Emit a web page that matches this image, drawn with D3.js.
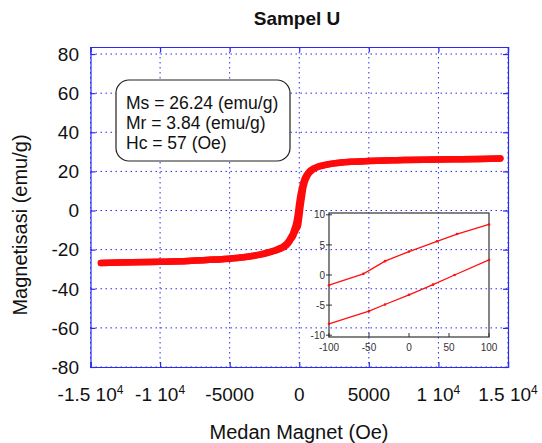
<!DOCTYPE html>
<html>
<head>
<meta charset="utf-8">
<script src="https://cdn.jsdelivr.net/npm/d3@7"></script>
<style>
  html, body { margin: 0; padding: 0; background: #fff; }
  svg { display: block; font-family: "Liberation Sans", Arial, Helvetica, sans-serif; }
</style>
</head>
<body>
<svg id="chart" width="542" height="443"></svg>
<script>
// ---------------- DATA ----------------
const titleText = "Sampel U";
const xLabelText = "Medan Magnet (Oe)";
const yLabelText = "Magnetisasi (emu/g)";
const infoLines = ["Ms = 26.24 (emu/g)", "Mr = 3.84 (emu/g)", "Hc = 57 (Oe)"];

// main loop: field (Oe) and magnetisation (emu/g) on both branches
const fieldH = [-14250, -12000, -10000, -8000, -6000, -4500, -3500, -2500, -1800, -1300, -1000, -800, -600, -450, -330, -200, -100, 0, 100, 200, 300, 400, 550, 750, 1000, 1350, 1800, 2500, 3700, 5000, 7000, 9000, 11000, 13000, 14450];
const upperM = [-26.8, -26.5, -26.2, -25.8, -25.1, -24.3, -23.4, -21.9, -20.5, -19.0, -17.6, -16.0, -13.7, -11.7, -9.2, -5.9, -1.7, 3.9, 8.4, 11.6, 14.5, 16.5, 18.4, 20.2, 21.4, 22.5, 23.3, 24.1, 24.9, 25.3, 25.7, 26.0, 26.2, 26.4, 26.6];
const lowerM = [-26.8, -26.5, -26.2, -25.8, -25.1, -24.3, -23.4, -22.1, -20.7, -19.4, -18.2, -16.8, -14.7, -13.1, -11.2, -9.3, -8.1, -3.3, 2.5, 7.4, 11.9, 14.7, 17.2, 19.4, 21.0, 22.3, 23.1, 24.1, 24.9, 25.3, 25.7, 26.0, 26.2, 26.4, 26.6];

// inset (zoom near origin)
const insetUpperH = [-100, -57, -30, 0, 35, 60, 100];
const insetUpperM = [-1.7, 0.2, 2.3, 3.9, 5.6, 6.8, 8.4];
const insetLowerH = [-100, -50, -30, 0, 30, 57, 100];
const insetLowerM = [-8.1, -6.0, -4.9, -3.3, -1.6, 0.0, 2.5];

// ticks
const xTicks = [-15000, -10000, -5000, 0, 5000, 10000, 15000];
const xTickBase = ["-1.5 10", "-1 10", "-5000", "0", "5000", "1 10", "1.5 10"];
const xTickExp = ["4", "4", "", "", "", "4", "4"];
const yTicks = [-80, -60, -40, -20, 0, 20, 40, 60, 80];
const insetXTicks = [-100, -50, 0, 50, 100];
const insetYTicks = [-10, -5, 0, 5, 10];

// ---------------- DRAW ----------------
const svg = d3.select("#chart");
const blue = "#2b2bf0";

const x = d3.scaleLinear().domain([-15000, 15000]).range([90.5, 508]);
const y = d3.scaleLinear().domain([-80, 83.6]).range([367, 47]);

// grid
const grid = svg.append("g");
grid.selectAll("line.gx").data(xTicks).join("line")
  .attr("x1", d => x(d)).attr("x2", d => x(d))
  .attr("y1", y.range()[1]).attr("y2", y.range()[0])
  .attr("stroke", blue).attr("stroke-width", 1).attr("stroke-dasharray", "1.5,3.5");
grid.selectAll("line.gy").data(yTicks).join("line")
  .attr("y1", d => y(d)).attr("y2", d => y(d))
  .attr("x1", x.range()[0]).attr("x2", x.range()[1])
  .attr("stroke", blue).attr("stroke-width", 1).attr("stroke-dasharray", "1.5,3.5");

// axes (inward ticks)
const xAxisG = svg.append("g").attr("transform", `translate(0,${y.range()[0]})`)
  .call(d3.axisBottom(x).tickValues(xTicks).tickSize(-5).tickFormat(""));
const xAxisTopG = svg.append("g").attr("transform", `translate(0,${y.range()[1]})`)
  .call(d3.axisTop(x).tickValues(xTicks).tickSize(-5).tickFormat(""));
const yAxisG = svg.append("g").attr("transform", `translate(${x.range()[0]},0)`)
  .call(d3.axisLeft(y).tickValues(yTicks).tickSize(-5).tickFormat(""));
const yAxisRG = svg.append("g").attr("transform", `translate(${x.range()[1]},0)`)
  .call(d3.axisRight(y).tickValues(yTicks).tickSize(-5).tickFormat(""));
[xAxisG, xAxisTopG, yAxisG, yAxisRG].forEach(g => {
  g.selectAll("path.domain").attr("stroke", blue).attr("stroke-width", 1.2);
  g.selectAll(".tick line").attr("stroke", blue).attr("stroke-width", 1.2);
});

// y tick labels
svg.append("g").selectAll("text").data(yTicks).join("text")
  .attr("x", 79).attr("y", d => y(d)).attr("dy", "0.36em")
  .attr("text-anchor", "end").attr("font-size", 19).attr("fill", "#111")
  .text(d => d);

// x tick labels with superscripts
const xl = svg.append("g").selectAll("text").data(xTicks).join("text")
  .attr("x", d => x(d)).attr("y", 401)
  .attr("text-anchor", "middle").attr("font-size", 19).attr("fill", "#111");
xl.append("tspan").text((d, i) => xTickBase[i]);
xl.append("tspan").attr("dy", "-0.55em").attr("font-size", 12)
  .text((d, i) => xTickExp[i]);

// axis labels and title
svg.append("text").attr("x", 299).attr("y", 439).attr("text-anchor", "middle")
  .attr("font-size", 20).attr("fill", "#111").text(xLabelText);
svg.append("text").attr("transform", "translate(27,225) rotate(-90)")
  .attr("text-anchor", "middle").attr("font-size", 20).attr("fill", "#111").text(yLabelText);
svg.append("text").attr("x", 297).attr("y", 25).attr("text-anchor", "middle")
  .attr("font-size", 19).attr("font-weight", "bold").attr("fill", "#111").text(titleText);

// info box
svg.append("rect").attr("x", 116).attr("y", 80).attr("width", 174).attr("height", 81)
  .attr("rx", 13).attr("ry", 13).attr("fill", "#fff").attr("stroke", "#222").attr("stroke-width", 1.2);
svg.append("g").selectAll("text").data(infoLines).join("text")
  .attr("x", 126).attr("y", (d, i) => 109 + i * 20)
  .attr("font-size", 17.5).attr("fill", "#111").text(d => d);

// main loop
const line = d3.line().x(d => x(d[0])).y(d => y(d[1])).curve(d3.curveMonotoneX);
const upperPts = fieldH.map((h, i) => [h, upperM[i]]);
const lowerPts = fieldH.map((h, i) => [h, lowerM[i]]);
[upperPts, lowerPts].forEach(pts => {
  svg.append("path").datum(pts).attr("d", line)
    .attr("fill", "none").attr("stroke", "#ff0a0a").attr("stroke-width", 6.5)
    .attr("stroke-linecap", "round").attr("stroke-linejoin", "round");
});

// inset
const xi = d3.scaleLinear().domain([-100, 100]).range([329, 489]);
const yi = d3.scaleLinear().domain([-10.3, 10.3]).range([337, 213]);
const inset = svg.append("g");
inset.append("rect").attr("x", 329).attr("y", 213).attr("width", 160).attr("height", 124)
  .attr("fill", "none").attr("stroke", "#333").attr("stroke-width", 1.2);
inset.append("g").selectAll("line").data(insetYTicks).join("line")
  .attr("x1", 326).attr("x2", 332).attr("y1", d => yi(d)).attr("y2", d => yi(d))
  .attr("stroke", "#333").attr("stroke-width", 1);
inset.append("g").selectAll("line").data(insetXTicks).join("line")
  .attr("y1", 337).attr("y2", 333).attr("x1", d => xi(d)).attr("x2", d => xi(d))
  .attr("stroke", "#333").attr("stroke-width", 1);
inset.append("g").selectAll("text").data(insetYTicks).join("text")
  .attr("x", 325).attr("y", d => yi(d)).attr("dy", "0.36em").attr("text-anchor", "end")
  .attr("font-size", 10).attr("fill", "#333").text(d => d);
inset.append("g").selectAll("text").data(insetXTicks).join("text")
  .attr("x", d => xi(d)).attr("y", 351).attr("text-anchor", "middle")
  .attr("font-size", 10).attr("fill", "#333").text(d => d);
const iline = d3.line().x(d => xi(d[0])).y(d => yi(d[1]));
[[insetUpperH, insetUpperM], [insetLowerH, insetLowerM]].forEach(([hs, ms]) => {
  const pts = hs.map((h, i) => [h, ms[i]]);
  inset.append("path").datum(pts).attr("d", iline)
    .attr("fill", "none").attr("stroke", "#ff1010").attr("stroke-width", 1.3);
  inset.append("g").selectAll("circle").data(pts).join("circle")
    .attr("cx", d => xi(d[0])).attr("cy", d => yi(d[1])).attr("r", 1.3).attr("fill", "#ff1010");
});
</script>
</body>
</html>
